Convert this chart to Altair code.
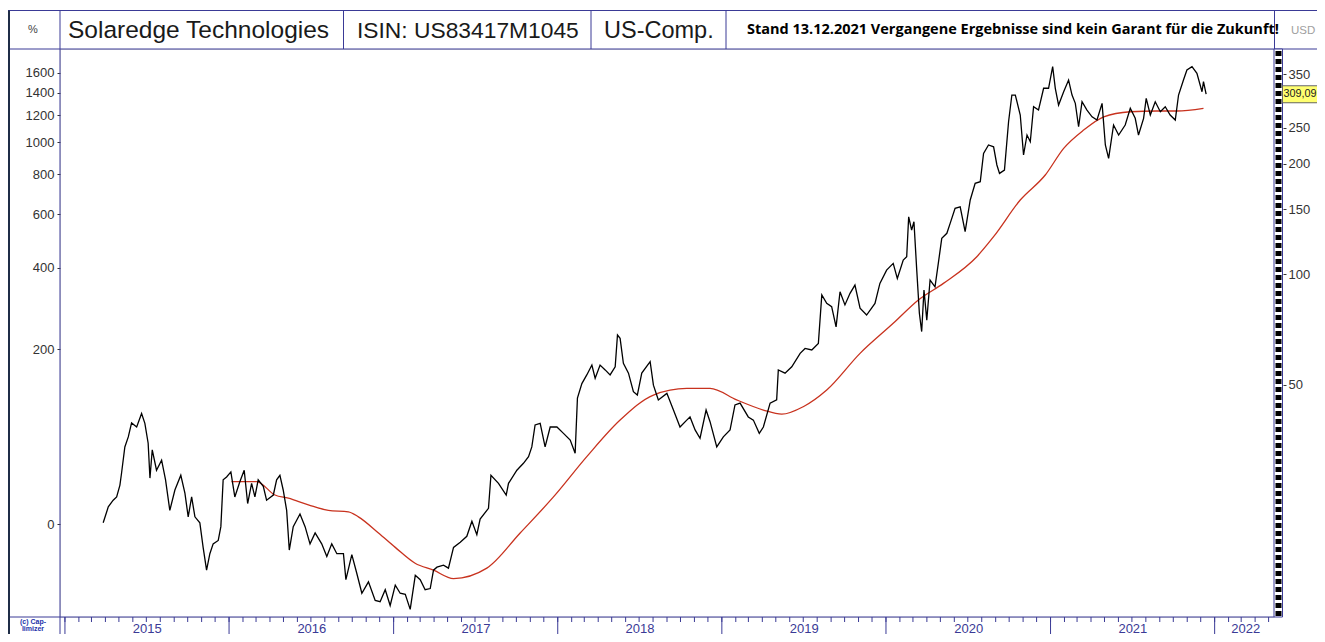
import altair as alt
import pandas as pd

# ---------------- data ----------------
price_years = [
    2015.233, 2015.264, 2015.294, 2015.315, 2015.335, 2015.345, 2015.365, 2015.386, 2015.406, 2015.437,
    2015.467, 2015.487, 2015.507, 2015.518, 2015.532, 2015.558, 2015.589, 2015.613, 2015.639, 2015.670,
    2015.706, 2015.731, 2015.751, 2015.772, 2015.792, 2015.822, 2015.842, 2015.863, 2015.883, 2015.903,
    2015.934, 2015.950, 2015.964, 2015.985, 2016.011, 2016.035, 2016.066, 2016.092, 2016.113, 2016.137,
    2016.157, 2016.177, 2016.208, 2016.228, 2016.269, 2016.289, 2016.309, 2016.329, 2016.350, 2016.366,
    2016.390, 2016.431, 2016.462, 2016.492, 2016.523, 2016.563, 2016.594, 2016.624, 2016.655, 2016.695,
    2016.710, 2016.746, 2016.776, 2016.807, 2016.847, 2016.888, 2016.918, 2016.949, 2016.979, 2017.010,
    2017.040, 2017.071, 2017.101, 2017.132, 2017.162, 2017.192, 2017.223, 2017.243,
    2017.264, 2017.304, 2017.334, 2017.365, 2017.406, 2017.446, 2017.477, 2017.507, 2017.527, 2017.578,
    2017.593, 2017.639, 2017.686, 2017.700, 2017.751, 2017.791, 2017.822, 2017.842, 2017.862, 2017.893,
    2017.923, 2017.954, 2017.995, 2018.035, 2018.076, 2018.106, 2018.120, 2018.147, 2018.177, 2018.208,
    2018.228, 2018.258, 2018.289, 2018.319, 2018.350, 2018.364, 2018.380, 2018.400, 2018.431, 2018.461,
    2018.485, 2018.512, 2018.563, 2018.583, 2018.613, 2018.665, 2018.705, 2018.745, 2018.786, 2018.806,
    2018.837, 2018.867, 2018.904, 2018.928, 2018.969, 2019.009, 2019.050, 2019.080, 2019.111, 2019.161,
    2019.192, 2019.228, 2019.253, 2019.294, 2019.334, 2019.344,
    2019.385, 2019.426, 2019.477, 2019.507, 2019.548, 2019.588, 2019.609, 2019.639, 2019.669, 2019.696,
    2019.720, 2019.750, 2019.781, 2019.811, 2019.842, 2019.882, 2019.933, 2019.963, 2020.004, 2020.044,
    2020.069, 2020.105, 2020.126, 2020.138, 2020.156, 2020.170, 2020.187, 2020.203, 2020.217, 2020.231,
    2020.248, 2020.268, 2020.298, 2020.318, 2020.339, 2020.370, 2020.390, 2020.420, 2020.451, 2020.481,
    2020.512, 2020.542, 2020.573, 2020.593, 2020.623, 2020.654, 2020.674, 2020.690, 2020.720, 2020.745,
    2020.765, 2020.786, 2020.816, 2020.836, 2020.857, 2020.877, 2020.897, 2020.927, 2020.958, 2020.988,
    2021.013, 2021.029, 2021.049, 2021.080, 2021.110, 2021.131, 2021.151, 2021.171, 2021.192, 2021.222,
    2021.253, 2021.283, 2021.314, 2021.334, 2021.354, 2021.384, 2021.415, 2021.455, 2021.486, 2021.516,
    2021.536, 2021.567, 2021.583, 2021.608, 2021.638, 2021.669, 2021.699, 2021.729, 2021.760, 2021.780,
    2021.810, 2021.831, 2021.862, 2021.892, 2021.923, 2021.932, 2021.948,
]
price_usd = [
    21.0, 23.2, 24.2, 24.7, 26.6, 28.7, 33.8, 36.0, 39.3, 38.3,
    41.7, 39.2, 34.6, 27.8, 33.2, 29.2, 31.1, 27.5, 22.7, 25.8,
    28.3, 25.3, 21.8, 24.7, 21.8, 21.0, 18.0, 15.6, 17.3, 18.4,
    18.8, 20.5, 27.5, 28.0, 28.9, 24.7, 27.2, 29.2, 23.7, 26.9,
    24.7, 27.5, 26.4, 24.2, 25.0, 27.5, 28.3, 25.8, 22.7, 17.7,
    20.5, 22.2, 20.5, 18.4, 19.7, 18.4, 17.0, 18.4, 17.3, 17.3,
    14.7, 17.2, 15.3, 13.5, 14.5, 12.9, 12.8, 13.8, 12.5, 14.2,
    13.5, 13.4, 12.2, 15.1, 14.7, 13.8, 13.9, 15.6,
    15.9, 16.1, 15.8, 18.0, 18.6, 19.3, 21.2, 19.5, 21.5, 23.0,
    28.3, 26.9, 25.0, 26.9, 29.2, 30.5, 31.8, 33.8, 38.8, 39.2,
    33.8, 38.3, 38.3, 36.8, 35.3, 32.5, 45.9, 50.3, 53.1, 56.5,
    52.0, 56.5, 54.8, 53.1, 55.9, 68.2, 66.8, 57.1, 53.7, 47.8,
    46.8, 53.7, 57.7, 49.8, 45.4, 47.3, 42.6, 38.3, 40.0, 40.8,
    37.6, 35.7, 42.6, 39.6, 33.8, 36.0, 37.6, 44.0, 44.5, 40.8,
    40.0, 36.8, 38.3, 44.5, 45.4, 54.8,
    53.7, 55.9, 60.8, 62.7, 62.1, 64.7, 87.7, 83.2, 81.5, 71.8,
    89.5, 82.4, 88.6, 93.3, 80.7, 77.3, 83.2, 94.3, 102.5, 106.9,
    97.3, 109.2, 111.5, 143.2, 131.8, 138.8, 102.5, 78.2, 69.7, 90.5,
    74.9, 96.3, 92.3, 106.9, 125.1, 129.1, 137.4, 151.0, 152.5, 130.4,
    159.1, 176.7, 178.5, 213.2, 224.7, 222.2, 198.2, 188.0, 192.0, 260.0,
    307.4, 307.4, 271.2, 211.0, 239.2, 229.3, 285.6, 279.8, 320.7, 320.7,
    367.2, 320.7, 288.7, 313.8, 337.8, 307.4, 291.8, 251.9, 294.7, 279.8,
    268.2, 262.8, 291.8, 224.7, 206.7, 254.7, 239.2, 254.7, 282.8, 265.6,
    239.2, 265.6, 301.1, 271.2, 294.7, 276.8, 285.6, 271.2, 262.8, 307.4,
    337.8, 359.6, 367.2, 352.2, 313.8, 334.2, 309.09,
]
ma_years = [
    2016.015, 2016.167, 2016.279, 2016.360, 2016.482, 2016.603, 2016.725, 2016.786, 2016.908, 2017.010,
    2017.131, 2017.243, 2017.365, 2017.568, 2017.771, 2017.974, 2018.177, 2018.380, 2018.583, 2018.786,
    2018.928, 2019.090, 2019.253, 2019.365, 2019.496, 2019.639, 2019.842, 2020.044, 2020.197, 2020.349,
    2020.552, 2020.654, 2020.816, 2020.968, 2021.080, 2021.202, 2021.324, 2021.486, 2021.648, 2021.770,
    2021.932,
]
ma_usd = [
    27.2, 27.2, 25.0, 24.5, 23.5, 22.7, 22.5, 21.8, 19.7, 18.0,
    16.3, 15.6, 14.8, 15.8, 19.7, 24.7, 31.8, 40.0, 46.8, 48.8,
    48.8, 45.4, 42.6, 41.5, 43.5, 48.3, 60.8, 73.4, 85.0, 94.3,
    111.5, 126.4, 159.1, 186.1, 220.0, 246.8, 268.2, 276.8, 278.1, 278.1,
    282.8,
]
pct_ticks = [0, 200, 400, 600, 800, 1000, 1200, 1400, 1600]
usd_ticks = [50, 100, 150, 200, 250, 350]
base_price = 20.8
last_price = [309.09]
last_label = "309,09"
year_label_days = [(2015, 7, 2), (2016, 7, 2), (2017, 7, 2), (2018, 7, 2),
                   (2019, 7, 2), (2020, 7, 2), (2021, 7, 2), (2022, 3, 10)]
header_cells = ["%", "Solaredge Technologies", "ISIN: US83417M1045", "US-Comp."]
note_text = "Stand 13.12.2021  Vergangene Ergebnisse sind kein Garant für die Zukunft!"


def frac_to_ts(t):
    y = int(t)
    start = pd.Timestamp(year=y, month=1, day=1)
    end = pd.Timestamp(year=y + 1, month=1, day=1)
    return start + (end - start) * (t - y)


price_df = pd.DataFrame({"date": [frac_to_ts(t) for t in price_years], "price": price_usd})
ma_df = pd.DataFrame({"date": [frac_to_ts(t) for t in ma_years], "ma": ma_usd})
month_df = pd.DataFrame({"d": pd.date_range("2015-01-01", "2022-05-01", freq="MS")})
yearstart_df = pd.DataFrame({"d": pd.date_range("2015-01-01", "2022-01-01", freq="YS")})
last_df = pd.DataFrame({"v": last_price})
one = pd.DataFrame({"k": [0]})

# ---------------- styling ----------------
NAVY = "#3a3a96"
W, H = 1214, 568
PAD_R = 43
FONT = "Liberation Sans"

XS = alt.Scale(domain=[alt.DateTime(year=2014, month=12, date=21),
                       alt.DateTime(year=2022, month=5, date=13)], nice=False)
YS = alt.Scale(type="log", domain=[11.63, 410.3], nice=False, zero=False)


def vline(x, y0, y1, color=NAVY, w=1):
    return alt.Chart(one).mark_rule(color=color, strokeWidth=w).encode(
        x=alt.value(x), y=alt.value(y0), y2=alt.value(y1))


def hline(y, x0, x1, color=NAVY, w=1):
    return alt.Chart(one).mark_rule(color=color, strokeWidth=w).encode(
        y=alt.value(y), x=alt.value(x0), x2=alt.value(x1))


def label(text, x, y, size, align="left", color="#1a1a1a", font=FONT, weight="normal"):
    return alt.Chart(one).mark_text(text=text, align=align, baseline="middle", fontSize=size,
                                    font=font, color=color, fontWeight=weight).encode(
        x=alt.value(x), y=alt.value(y))


# header frame
frame = [
    hline(-38.5, -52, W + PAD_R),
    hline(0, -52, W + PAD_R),
    hline(H, -52, W),
    vline(-51, -38.5, H + 17, color="#1f2d47", w=2),
    vline(0, -38.5, H + 17),
    vline(283.5, -38.5, 0),
    vline(531, -38.5, 0),
    vline(666, -38.5, 0),
    vline(W + 0.5, -38.5, 0),
]

header = [
    label(header_cells[0], -27, -19, 11, align="center", color="#444"),
    label(header_cells[1], 8, -18, 24.5),
    label(header_cells[2], 297, -18, 22.8),
    label(header_cells[3], 544, -18, 23.5),
    label("USD", 1231, -18, 11.5, color="#a0a0a0"),
    label(note_text, 687, -19, 14.5, font="Open Sans", weight="bold", color="#000000"),
    label("(c) Cap-", -27, 573, 7, align="center", color="#2233aa", weight="bold"),
    label("limizer", -27, 580, 7, align="center", color="#2233aa", weight="bold"),
]

# bottom time band
month_ticks = alt.Chart(month_df).mark_rule(color=NAVY, strokeWidth=1).encode(
    x=alt.X("d:T", scale=XS, axis=None), y=alt.value(H), y2=alt.value(H + 5))
year_seps = alt.Chart(yearstart_df).mark_rule(color=NAVY, strokeWidth=1).encode(
    x=alt.X("d:T", scale=XS, axis=None), y=alt.value(H), y2=alt.value(H + 18))

# right scroll bar
bar_bg = alt.Chart(one).mark_rect(fill="white", stroke=NAVY, strokeWidth=1).encode(
    x=alt.value(W), x2=alt.value(W + 8.5), y=alt.value(0), y2=alt.value(H))
bar_dash = alt.Chart(one).mark_rule(color="black", strokeWidth=6, strokeDash=[5, 3]).encode(
    x=alt.value(W + 4.5), y=alt.value(2), y2=alt.value(H - 1))

# lines
price_line = alt.Chart(price_df).mark_line(color="black", strokeWidth=1.3).encode(
    x=alt.X("date:T", scale=XS,
            axis=alt.Axis(values=[alt.DateTime(year=a, month=b, date=c) for a, b, c in year_label_days],
                          format="%Y", ticks=False, domain=False, grid=False, labelFlush=False,
                          labelOverlap=False, labelPadding=5, labelFontSize=13, labelColor=NAVY,
                          labelFont=FONT, title=None)),
    y=alt.Y("price:Q", scale=YS,
            axis=alt.Axis(orient="left", values=[base_price * (1 + p / 100) for p in pct_ticks],
                          labelExpr=f"format(round((datum.value / {base_price} - 1) * 100), 'd')",
                          tickSize=3, domain=False, grid=False, labelPadding=3, labelFontSize=13,
                          labelColor="#333333", tickColor="#333333", labelFont=FONT, title=None)),
)
ma_line = alt.Chart(ma_df).mark_line(color="#c8321e", strokeWidth=1.3, interpolate="monotone").encode(
    x=alt.X("date:T", scale=XS, axis=None),
    y=alt.Y("ma:Q", scale=YS, axis=None),
)

# last price box with right axis
last_border = alt.Chart(last_df).mark_rule(color="#666666", strokeWidth=18).encode(
    x=alt.value(W + 8), x2=alt.value(W + PAD_R),
    y=alt.Y("v:Q", scale=YS,
            axis=alt.Axis(orient="right", values=usd_ticks, format="d", offset=9, tickSize=3,
                          domain=False, grid=False, labelPadding=2, labelFontSize=13,
                          labelColor="#333333", tickColor="#333333", labelFont=FONT, title=None)),
)
last_fill = alt.Chart(last_df).mark_rule(color="#ffff70", strokeWidth=16).encode(
    x=alt.value(W + 9), x2=alt.value(W + PAD_R), y=alt.Y("v:Q", scale=YS, axis=None))
last_text = alt.Chart(last_df).mark_text(text=last_label, align="left", baseline="middle",
                                         fontSize=10.8, font=FONT, color="#222222").encode(
    x=alt.value(W + 9.5), y=alt.Y("v:Q", scale=YS, axis=None))

chart = alt.layer(
    *frame, *header, month_ticks, year_seps, bar_bg, bar_dash,
    ma_line, price_line, last_border, last_fill, last_text,
).resolve_scale(x="shared", y="shared").resolve_axis(x="independent", y="independent").properties(
    width=W, height=H,
    padding={"left": 52, "top": 41, "right": PAD_R, "bottom": 17},
    autosize=alt.AutoSizeParams(type="none"),
).configure_view(stroke=NAVY, strokeWidth=1).configure(background="white")

chart.save("out.html", embed_options={"renderer": "svg", "actions": False})
